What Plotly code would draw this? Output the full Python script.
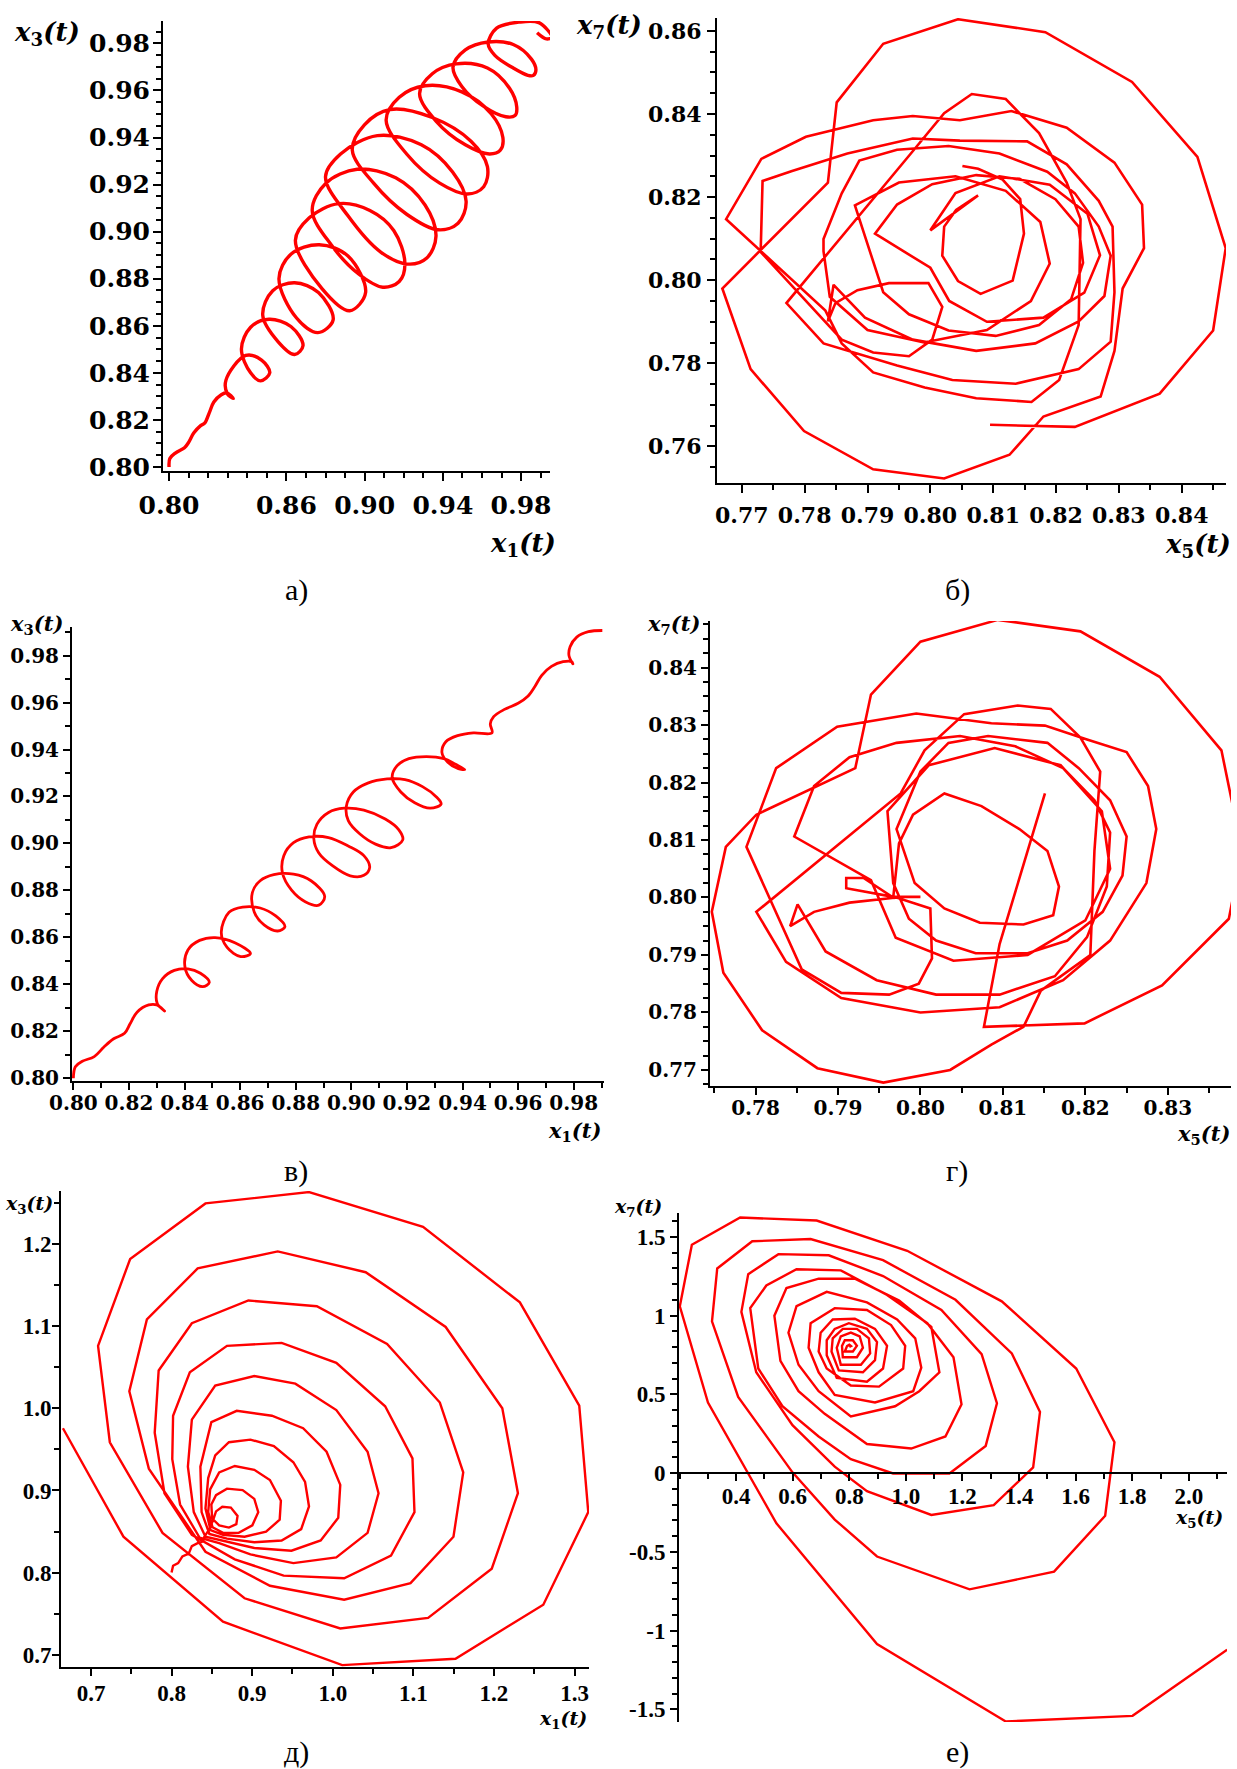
import plotly.graph_objects as go

W, H = 1237, 1769
RED = "#ff0000"

# ---------------- panel a : x1(t) vs x3(t) ----------------
a_pts = [
    (0.8000, 0.8000), (0.8004, 0.8036), (0.8032, 0.8059), (0.8079, 0.8082), (0.8098, 0.8102),
    (0.8126, 0.8144), (0.8160, 0.8175), (0.8182, 0.8186), (0.8205, 0.8229), (0.8229, 0.8276),
    (0.8267, 0.8307), (0.8295, 0.8315), (0.8329, 0.8291), (0.8299, 0.8310), (0.8291, 0.8369),
    (0.8392, 0.8474), (0.8473, 0.8454), (0.8515, 0.8400), (0.8468, 0.8366), (0.8417, 0.8400), (0.8370, 0.8501),
    (0.8417, 0.8594), (0.8511, 0.8628), (0.8623, 0.8597), (0.8685, 0.8516), (0.8642, 0.8478), (0.8558, 0.8532), (0.8479, 0.8645),
    (0.8530, 0.8749), (0.8642, 0.8783), (0.8764, 0.8741), (0.8839, 0.8625), (0.8761, 0.8571), (0.8652, 0.8633), (0.8562, 0.8800),
    (0.8623, 0.8904), (0.8768, 0.8944), (0.8915, 0.8896), (0.9005, 0.8741), (0.8924, 0.8664), (0.8783, 0.8757), (0.8646, 0.8963),
    (0.8717, 0.9059), (0.8868, 0.9119), (0.9027, 0.9090), (0.9149, 0.9005), (0.9206, 0.8865), (0.9177, 0.8788),
    (0.9093, 0.8764), (0.8971, 0.8819), (0.8830, 0.8943), (0.8732, 0.9090),
    (0.8802, 0.9206), (0.8962, 0.9265), (0.9159, 0.9229), (0.9309, 0.9113), (0.9365, 0.8981), (0.9318, 0.8888),
    (0.9224, 0.8862), (0.9084, 0.8912), (0.8915, 0.9067), (0.8800, 0.9233),
    (0.8877, 0.9330), (0.9065, 0.9408), (0.9290, 0.9369), (0.9450, 0.9253), (0.9519, 0.9129), (0.9478, 0.9036),
    (0.9375, 0.9008), (0.9215, 0.9074), (0.9046, 0.9206), (0.8937, 0.9346),
    (0.8999, 0.9454), (0.9131, 0.9519), (0.9346, 0.9485), (0.9544, 0.9384), (0.9628, 0.9276), (0.9609, 0.9191),
    (0.9525, 0.9160), (0.9384, 0.9206), (0.9215, 0.9330), (0.9110, 0.9473),
    (0.9177, 0.9571), (0.9309, 0.9620), (0.9497, 0.9594), (0.9647, 0.9501), (0.9707, 0.9400), (0.9694, 0.9346),
    (0.9638, 0.9330), (0.9515, 0.9369), (0.9365, 0.9470), (0.9281, 0.9586),
    (0.9346, 0.9671), (0.9469, 0.9713), (0.9628, 0.9695), (0.9741, 0.9609), (0.9778, 0.9529), (0.9769, 0.9493),
    (0.9722, 0.9488), (0.9609, 0.9532), (0.9497, 0.9617), (0.9452, 0.9699),
    (0.9515, 0.9772), (0.9632, 0.9806), (0.9760, 0.9795), (0.9853, 0.9733), (0.9876, 0.9687), (0.9863, 0.9664),
    (0.9835, 0.9664), (0.9760, 0.9695), (0.9666, 0.9749), (0.9632, 0.9797),
    (0.9675, 0.9865), (0.9788, 0.9890), (0.9891, 0.9888), (0.9957, 0.9826), (0.9929, 0.9819), (0.9882, 0.9845),
]

# ---------------- panel б : x5(t) vs x7(t) ----------------
b_pts = [
    (0.8051, 0.8275), (0.8076, 0.8268), (0.8115, 0.8242), (0.8143, 0.8195), (0.8149, 0.8112), (0.8131, 0.7999),
    (0.8080, 0.7967), (0.8044, 0.7998), (0.8019, 0.8059), (0.8022, 0.8129), (0.8041, 0.8169), (0.8076, 0.8204),
    (0.8000, 0.8120), (0.8040, 0.8210), (0.8110, 0.8250), (0.8190, 0.8230), (0.8250, 0.8160), (0.8270, 0.8060),
    (0.8245, 0.7970), (0.8180, 0.7910), (0.8090, 0.7900), (0.8030, 0.7950), (0.8000, 0.8030),
    (0.7912, 0.8112), (0.7947, 0.8182), (0.8003, 0.8231), (0.8073, 0.8253), (0.8142, 0.8244), (0.8199, 0.8195),
    (0.8236, 0.8129), (0.8243, 0.8042), (0.8224, 0.7954), (0.8173, 0.7892), (0.8104, 0.7866), (0.8029, 0.7879),
    (0.7966, 0.7918), (0.7925, 0.7971),
    (0.7880, 0.8180), (0.7950, 0.8235), (0.8040, 0.8250), (0.8120, 0.8215), (0.8175, 0.8140), (0.8190, 0.8040),
    (0.8160, 0.7950), (0.8090, 0.7880), (0.7990, 0.7850), (0.7900, 0.7880), (0.7840, 0.7960), (0.7830, 0.8070),
    (0.7830, 0.8099), (0.7859, 0.8209), (0.7887, 0.8288), (0.7947, 0.8314), (0.8029, 0.8323), (0.8110, 0.8305),
    (0.8186, 0.8261), (0.8230, 0.8209), (0.8268, 0.8129), (0.8287, 0.8059), (0.8277, 0.7962), (0.8236, 0.7901),
    (0.8167, 0.7848), (0.8073, 0.7830), (0.7972, 0.7857), (0.7896, 0.7910), (0.7846, 0.7989),
    (0.7837, 0.7901), (0.7849, 0.7945), (0.7884, 0.7976), (0.7934, 0.7993), (0.7997, 0.7993), (0.8019, 0.7936),
    (0.8003, 0.7857), (0.7966, 0.7817), (0.7909, 0.7826), (0.7859, 0.7857),
    (0.7730, 0.8068), (0.7733, 0.8239), (0.7780, 0.8263), (0.7868, 0.8305), (0.7972, 0.8341), (0.8047, 0.8336),
    (0.8154, 0.8334), (0.8217, 0.8279), (0.8268, 0.8191), (0.8290, 0.8129), (0.8293, 0.7971), (0.8287, 0.7852),
    (0.8236, 0.7786), (0.8136, 0.7751), (0.8035, 0.7760), (0.7947, 0.7795), (0.7830, 0.7848), (0.7771, 0.7945),
    (0.7969, 0.8305), (0.8022, 0.8402), (0.8066, 0.8448), (0.8120, 0.8436), (0.8173, 0.8354), (0.8217, 0.8235),
    (0.8239, 0.8147), (0.8236, 0.7892), (0.8205, 0.7760), (0.8161, 0.7707), (0.8073, 0.7716), (0.7991, 0.7742),
    (0.7909, 0.7778), (0.7859, 0.7848), (0.7833, 0.7927),
    (0.7675, 0.8147), (0.7731, 0.8292), (0.7802, 0.8345), (0.7909, 0.8385), (0.7972, 0.8395), (0.8047, 0.8385),
    (0.8129, 0.8407), (0.8217, 0.8367), (0.8293, 0.8283), (0.8337, 0.8182), (0.8340, 0.8077), (0.8306, 0.7980),
    (0.8293, 0.7830), (0.8271, 0.7720), (0.8180, 0.7672), (0.8126, 0.7580), (0.8022, 0.7523), (0.7909, 0.7545),
    (0.7799, 0.7637), (0.7714, 0.7786), (0.7669, 0.7980),
    (0.7837, 0.8235), (0.7851, 0.8428), (0.7925, 0.8569), (0.8044, 0.8628), (0.8183, 0.8597), (0.8321, 0.8477),
    (0.8425, 0.8297), (0.8470, 0.8077), (0.8450, 0.7879), (0.8365, 0.7727), (0.8230, 0.7647), (0.8095, 0.7652),
]

# ---------------- panel в : x1(t) vs x3(t) ----------------
v_pts = [
    (0.8000, 0.8000), (0.8007, 0.8049), (0.8032, 0.8072), (0.8075, 0.8092), (0.8110, 0.8133), (0.8145, 0.8168),
    (0.8184, 0.8191), (0.8204, 0.8232), (0.8229, 0.8281), (0.8271, 0.8312), (0.8300, 0.8312), (0.8328, 0.8286),
    (0.8302, 0.8317), (0.8300, 0.8370), (0.8321, 0.8424), (0.8363, 0.8459), (0.8412, 0.8466), (0.8457, 0.8447),
    (0.8489, 0.8408), (0.8465, 0.8390), (0.8426, 0.8416), (0.8401, 0.8477), (0.8412, 0.8546), (0.8454, 0.8587),
    (0.8510, 0.8599), (0.8581, 0.8577), (0.8637, 0.8531), (0.8602, 0.8518), (0.8553, 0.8557), (0.8532, 0.8622),
    (0.8560, 0.8707), (0.8609, 0.8729), (0.8672, 0.8725), (0.8728, 0.8691), (0.8761, 0.8645), (0.8735, 0.8627),
    (0.8686, 0.8653), (0.8651, 0.8707), (0.8644, 0.8791), (0.8672, 0.8841), (0.8721, 0.8867), (0.8792, 0.8869),
    (0.8855, 0.8841), (0.8904, 0.8775), (0.8883, 0.8737), (0.8834, 0.8752), (0.8785, 0.8801), (0.8752, 0.8875),
    (0.8757, 0.8948), (0.8792, 0.9003), (0.8848, 0.9028), (0.8918, 0.9025), (0.8989, 0.8989), (0.9045, 0.8948),
    (0.9066, 0.8898), (0.9045, 0.8864), (0.8996, 0.8862), (0.8932, 0.8905), (0.8883, 0.8959), (0.8865, 0.9020),
    (0.8876, 0.9081), (0.8918, 0.9132), (0.8975, 0.9150), (0.9045, 0.9142), (0.9122, 0.9104), (0.9171, 0.9058),
    (0.9185, 0.9015), (0.9143, 0.8982), (0.9087, 0.8997), (0.9031, 0.9040), (0.8989, 0.9097), (0.8982, 0.9158),
    (0.9007, 0.9219), (0.9059, 0.9257), (0.9129, 0.9275), (0.9193, 0.9272), (0.9256, 0.9242), (0.9305, 0.9199),
    (0.9323, 0.9168), (0.9284, 0.9150), (0.9228, 0.9173), (0.9178, 0.9219), (0.9147, 0.9280), (0.9164, 0.9330),
    (0.9207, 0.9361), (0.9270, 0.9370), (0.9333, 0.9361), (0.9375, 0.9337), (0.9408, 0.9315), (0.9385, 0.9318),
    (0.9347, 0.9346), (0.9326, 0.9387), (0.9340, 0.9433), (0.9382, 0.9459), (0.9439, 0.9471), (0.9506, 0.9471),
    (0.9500, 0.9509), (0.9512, 0.9540), (0.9551, 0.9571), (0.9600, 0.9597), (0.9635, 0.9627), (0.9661, 0.9670),
    (0.9685, 0.9716), (0.9720, 0.9754), (0.9762, 0.9774), (0.9793, 0.9774), (0.9797, 0.9765), (0.9783, 0.9800),
    (0.9787, 0.9838), (0.9811, 0.9879), (0.9853, 0.9902), (0.9903, 0.9907),
]

# ---------------- panel г : x5(t) vs x7(t) ----------------
g_pts = [
    (0.8000, 0.8001), (0.7967, 0.8001), (0.7910, 0.8016), (0.7910, 0.8034), (0.7931, 0.8034), (0.7967, 0.8000),
    (0.7974, 0.8094), (0.7991, 0.8144), (0.8029, 0.8181), (0.8074, 0.8159), (0.8120, 0.8119), (0.8154, 0.8081),
    (0.8168, 0.8019), (0.8161, 0.7969), (0.8125, 0.7953), (0.8072, 0.7956), (0.8029, 0.7981), (0.7993, 0.8025),
    (0.7971, 0.8119), (0.8000, 0.8219), (0.8034, 0.8269), (0.8082, 0.8281), (0.8154, 0.8269), (0.8192, 0.8225),
    (0.8230, 0.8169), (0.8250, 0.8106), (0.8245, 0.8038), (0.8221, 0.7975), (0.8178, 0.7925), (0.8130, 0.7903),
    (0.8067, 0.7903), (0.8019, 0.7925), (0.7986, 0.7963), (0.7967, 0.8025),
    (0.7960, 0.8150), (0.8010, 0.8230), (0.8090, 0.8260), (0.8170, 0.8230), (0.8220, 0.8150), (0.8230, 0.8050),
    (0.8200, 0.7960), (0.8130, 0.7900), (0.8040, 0.7890), (0.7970, 0.7930), (0.7940, 0.8030),
    (0.7847, 0.8106), (0.7871, 0.8194), (0.7914, 0.8244), (0.7971, 0.8269), (0.8048, 0.8281), (0.8115, 0.8263),
    (0.8173, 0.8225), (0.8211, 0.8169), (0.8230, 0.8113), (0.8226, 0.8019), (0.8202, 0.7931), (0.8163, 0.7863),
    (0.8096, 0.7831), (0.8019, 0.7831), (0.7947, 0.7856), (0.7885, 0.7906), (0.7851, 0.7988),
    (0.7842, 0.7950), (0.7871, 0.7975), (0.7914, 0.7991), (0.7971, 0.8000), (0.8012, 0.7981), (0.8014, 0.7894),
    (0.7998, 0.7850), (0.7962, 0.7831), (0.7904, 0.7834), (0.7856, 0.7875),
    (0.7789, 0.8088), (0.7825, 0.8225), (0.7899, 0.8297), (0.7995, 0.8320), (0.8086, 0.8303), (0.8151, 0.8299),
    (0.8202, 0.8275), (0.8250, 0.8253), (0.8276, 0.8194), (0.8286, 0.8119), (0.8274, 0.8025), (0.8230, 0.7925),
    (0.8173, 0.7856), (0.8096, 0.7809), (0.8000, 0.7800), (0.7904, 0.7825), (0.7837, 0.7888), (0.7801, 0.7975),
    (0.7976, 0.8181), (0.8005, 0.8256), (0.8053, 0.8319), (0.8118, 0.8334), (0.8158, 0.8328), (0.8194, 0.8278),
    (0.8218, 0.8219), (0.8211, 0.8081), (0.8206, 0.7900), (0.8146, 0.7838), (0.8125, 0.7775),
    (0.8086, 0.7744), (0.8036, 0.7700), (0.7955, 0.7678), (0.7875, 0.7703), (0.7808, 0.7769), (0.7761, 0.7869),
    (0.7747, 0.7975), (0.7764, 0.8088), (0.7801, 0.8144), (0.7921, 0.8225),
    (0.7940, 0.8353), (0.8000, 0.8445), (0.8094, 0.8483), (0.8194, 0.8463), (0.8290, 0.8384), (0.8365, 0.8256),
    (0.8390, 0.8081), (0.8374, 0.7963), (0.8293, 0.7847), (0.8199, 0.7781), (0.8077, 0.7775),
    (0.8096, 0.7919), (0.8151, 0.8181),
]

# ---------------- panel д : x1(t) vs x3(t) ----------------
d_pts = [
    (0.7999, 0.8002), (0.8018, 0.8085), (0.8081, 0.8117), (0.8134, 0.8199), (0.8212, 0.8232), (0.8251, 0.8324),
    (0.8323, 0.8360), (0.8386, 0.8379), (0.8406, 0.8438), (0.8469, 0.8530),
    (0.8517, 0.8645), (0.8551, 0.8746), (0.8629, 0.8801), (0.8735, 0.8792), (0.8818, 0.8691), (0.8803, 0.8590),
    (0.8711, 0.8549), (0.8590, 0.8576), (0.8503, 0.8659),
    (0.8493, 0.8829), (0.8551, 0.8944), (0.8687, 0.9022), (0.8881, 0.9004), (0.9026, 0.8898), (0.9075, 0.8737),
    (0.9002, 0.8576), (0.8832, 0.8484), (0.8638, 0.8484), (0.8508, 0.8553),
    (0.8454, 0.8737), (0.8478, 0.9013), (0.8590, 0.9220), (0.8784, 0.9298), (0.9026, 0.9252), (0.9220, 0.9128),
    (0.9356, 0.8875), (0.9341, 0.8645), (0.9172, 0.8498), (0.8905, 0.8438), (0.8638, 0.8461), (0.8483, 0.8517),
    (0.8420, 0.8783), (0.8454, 0.9151), (0.8541, 0.9427), (0.8711, 0.9587), (0.8978, 0.9619), (0.9269, 0.9541),
    (0.9511, 0.9344), (0.9656, 0.9105), (0.9705, 0.8806), (0.9608, 0.8530), (0.9365, 0.8392), (0.9026, 0.8370),
    (0.8687, 0.8415), (0.8469, 0.8471),
    (0.8372, 0.8737), (0.8357, 0.9289), (0.8493, 0.9831), (0.8808, 0.9969), (0.9244, 0.9909), (0.9632, 0.9757),
    (0.9923, 0.9472), (1.0093, 0.9068), (1.0068, 0.8668), (0.9850, 0.8392), (0.9487, 0.8268), (0.9026, 0.8301),
    (0.8663, 0.8379), (0.8420, 0.8438),
    (0.8275, 0.8737), (0.8202, 0.9289), (0.8251, 0.9863), (0.8541, 1.0277), (0.9026, 1.0392), (0.9535, 1.0300),
    (1.0044, 0.9978), (1.0432, 0.9472), (1.0568, 0.8967), (1.0432, 0.8484), (1.0044, 0.8186), (0.9511, 0.8117),
    (0.8978, 0.8222), (0.8590, 0.8360), (0.8348, 0.8425),
    (0.8105, 0.8829), (0.8008, 0.9381), (0.8018, 0.9909), (0.8226, 1.0438), (0.8687, 1.0759), (0.9365, 1.0796),
    (1.0044, 1.0552), (1.0650, 1.0024), (1.0989, 0.9390), (1.1014, 0.8737), (1.0723, 0.8209), (1.0141, 0.7933),
    (0.9390, 0.7965), (0.8784, 0.8163), (0.8251, 0.8461),
    (0.7911, 0.8967), (0.7790, 0.9702), (0.7839, 1.0460), (0.8251, 1.1035), (0.8953, 1.1311), (0.9802, 1.1242),
    (1.0674, 1.0782), (1.1329, 1.0070), (1.1619, 0.9220), (1.1498, 0.8438), (1.0965, 0.7873), (1.0141, 0.7671),
    (0.9220, 0.7841), (0.8420, 0.8255),
    (0.7717, 0.9266), (0.7475, 1.0208), (0.7693, 1.1081), (0.8323, 1.1701), (0.9317, 1.1908), (1.0408, 1.1655),
    (1.1401, 1.0989), (1.2104, 1.0001), (1.2298, 0.8967), (1.1973, 0.8048), (1.1183, 0.7450), (1.0093, 0.7322),
    (0.8905, 0.7689), (0.7887, 0.8484),
    (0.7233, 0.9587), (0.7087, 1.0759), (0.7485, 1.1816), (0.8420, 1.2492), (0.9705, 1.2630), (1.1120, 1.2207),
    (1.2322, 1.1288), (1.3059, 1.0033), (1.3171, 0.8737), (1.2613, 0.7611), (1.1523, 0.6954), (1.0117, 0.6876),
    (0.8638, 0.7404), (0.7402, 0.8438), (0.6651, 0.9757),
]

# ---------------- panel е : x5(t) vs x7(t) ----------------
e_pts = [
    (0.800, 0.800), (0.806, 0.806), (0.800, 0.815), (0.792, 0.806),
    (0.7841, 0.7716), (0.8125, 0.7716), (0.8268, 0.8076), (0.8125, 0.8435), (0.7841, 0.8435), (0.7741, 0.8076),
    (0.7770, 0.7357), (0.8268, 0.7357), (0.8481, 0.7956), (0.8367, 0.8675), (0.8054, 0.8914), (0.7699, 0.8675),
    (0.7556, 0.7956),
    (0.7699, 0.6877), (0.8410, 0.6877), (0.8737, 0.7596), (0.8694, 0.8555), (0.8268, 0.9154), (0.7770, 0.9154),
    (0.7414, 0.8555), (0.7371, 0.7716),
    (0.7627, 0.6518), (0.8481, 0.6398), (0.8908, 0.7165), (0.8979, 0.8315), (0.8623, 0.9154), (0.7983, 0.9514),
    (0.7485, 0.9154), (0.7201, 0.8435), (0.7201, 0.7477),
    (0.7556, 0.6039), (0.8623, 0.5799), (0.9192, 0.6638), (0.9334, 0.8076), (0.8908, 0.9154), (0.8196, 0.9801),
    (0.7414, 0.9753), (0.6987, 0.8914), (0.6916, 0.7716), (0.7201, 0.6638),
    (0.8054, 0.5560), (0.9050, 0.5488), (0.9904, 0.6638), (0.9975, 0.8076), (0.9476, 0.9394), (0.8623, 1.0353),
    (0.7485, 1.0472), (0.6632, 0.9514), (0.6561, 0.7956), (0.6916, 0.6398),
    (0.7485, 0.4961), (0.8908, 0.4481), (1.0259, 0.5200), (1.0544, 0.6686), (1.0330, 0.8555), (0.9690, 0.9753),
    (0.8623, 1.0832), (0.7201, 1.1503), (0.6134, 1.0592), (0.5849, 0.8914), (0.6205, 0.6878), (0.6916, 0.5200),
    (0.8054, 0.3595), (0.9618, 0.4242), (1.0472, 0.5200), (1.1184, 0.6398), (1.0899, 0.9274), (0.9761, 1.0952),
    (0.8196, 1.2341), (0.6916, 1.2341), (0.5778, 1.1742), (0.5351, 0.9993), (0.5565, 0.7117), (0.6205, 0.5200),
    (0.7130, 0.3762),
    (0.8623, 0.1845), (1.0188, 0.1558), (1.1397, 0.2325), (1.1966, 0.4361), (1.1682, 0.7357), (1.0757, 0.9514),
    (0.9334, 1.1311), (0.7699, 1.2869), (0.6134, 1.2941), (0.5067, 1.1910), (0.4498, 1.0472), (0.4782, 0.6638),
    (0.5636, 0.4242), (0.6916, 0.2325), (0.8054, 0.0887),
    (0.9548, -0.0024), (1.1539, -0.0024), (1.2820, 0.1725), (1.3218, 0.4433), (1.2677, 0.7549), (1.1255, 1.0353),
    (0.9192, 1.2509), (0.7272, 1.3827), (0.5494, 1.3899), (0.4427, 1.2629), (0.4185, 1.0232), (0.4711, 0.6398),
    (0.5991, 0.3043), (0.7485, 0.0407), (0.8623, -0.1150),
    (1.0899, -0.2660), (1.3104, -0.2037), (1.4498, 0.0359), (1.4740, 0.3882), (1.3744, 0.7597), (1.1753, 1.0999),
    (0.9192, 1.3516), (0.6632, 1.4858), (0.4569, 1.4714), (0.3331, 1.2988), (0.3146, 0.9634), (0.4071, 0.4841),
    (0.5991, 0.0048), (0.7485, -0.2948), (0.8979, -0.5296),
    (1.2251, -0.7381), (1.5238, -0.6254), (1.7044, -0.2708), (1.7372, 0.1965), (1.6020, 0.6638), (1.3389, 1.0903),
    (1.0046, 1.4114), (0.6845, 1.6031), (0.4142, 1.6223), (0.2435, 1.4498), (0.2009, 1.0592), (0.3004, 0.4481),
    (0.5423, -0.3187), (0.8979, -1.0855), (1.3531, -1.5768), (1.8011, -1.5409), (2.1355, -1.1215),
]

# tick labels
a_xticks = [0.80, 0.86, 0.90, 0.94, 0.98]
a_xlabels = ["0.80", "0.86", "0.90", "0.94", "0.98"]
a_yticks = [0.80, 0.82, 0.84, 0.86, 0.88, 0.90, 0.92, 0.94, 0.96, 0.98]
b_xticks = [0.77, 0.78, 0.79, 0.80, 0.81, 0.82, 0.83, 0.84]
b_yticks = [0.76, 0.78, 0.80, 0.82, 0.84, 0.86]
v_xticks = [0.80, 0.82, 0.84, 0.86, 0.88, 0.90, 0.92, 0.94, 0.96, 0.98]
v_yticks = [0.80, 0.82, 0.84, 0.86, 0.88, 0.90, 0.92, 0.94, 0.96, 0.98]
g_xticks = [0.78, 0.79, 0.80, 0.81, 0.82, 0.83]
g_yticks = [0.77, 0.78, 0.79, 0.80, 0.81, 0.82, 0.83, 0.84]
d_xticks = [0.7, 0.8, 0.9, 1.0, 1.1, 1.2, 1.3]
d_xlabels = ["0.7", "0.8", "0.9", "1.0", "1.1", "1.2", "1.3"]
d_yticks = [0.7, 0.8, 0.9, 1.0, 1.1, 1.2]
d_ylabels = ["0.7", "0.8", "0.9", "1.0", "1.1", "1.2"]
e_xticks = [0.4, 0.6, 0.8, 1.0, 1.2, 1.4, 1.6, 1.8, 2.0]
e_xlabels = ["0.4", "0.6", "0.8", "1.0", "1.2", "1.4", "1.6", "1.8", "2.0"]
e_yticks = [-1.5, -1.0, -0.5, 0.0, 0.5, 1.0, 1.5]
e_ylabels = ["-1.5", "-1", "-0.5", "0", "0.5", "1", "1.5"]

captions = ["а)", "б)", "в)", "г)", "д)", "е)"]


def fmt2(v):
    return "%.2f" % v


fig = go.Figure()

panels = [
    (a_pts, "x", "y", 3.4, "spline"),
    (b_pts, "x2", "y2", 2.6, "linear"),
    (v_pts, "x3", "y3", 2.8, "spline"),
    (g_pts, "x4", "y4", 2.6, "linear"),
    (d_pts, "x5", "y5", 2.4, "linear"),
    (e_pts, "x6", "y6", 2.4, "linear"),
]
for pts, xa, ya, lw, shape in panels:
    xs = [p[0] for p in pts]
    ys = [p[1] for p in pts]
    line = dict(color=RED, width=lw, shape=shape)
    if shape == "spline":
        line["smoothing"] = 1.0
    fig.add_trace(go.Scatter(x=xs, y=ys, mode="lines", line=line, xaxis=xa, yaxis=ya,
                             showlegend=False, hoverinfo="skip"))


def dx(l, r):
    return [l / W, r / W]


def dy(top, bot):
    return [1 - bot / H, 1 - top / H]


def axis(domain, rng, tickvals, ticktext, font, minor_dtick, minor_tick0, anchor, standoff, ticklen=8):
    return dict(
        domain=domain, range=rng, anchor=anchor, automargin=False,
        showgrid=False, zeroline=False, showline=True, linecolor="black", linewidth=2,
        ticks="outside", ticklen=ticklen, tickwidth=2, tickcolor="black",
        tickmode="array", tickvals=tickvals, ticktext=ticktext,
        tickfont=font, ticklabelstandoff=standoff,
        minor=dict(ticks="outside", ticklen=5, tickwidth=1.5, tickcolor="black",
                   dtick=minor_dtick, tick0=minor_tick0, showgrid=False),
        fixedrange=True,
    )


fa = dict(family="DejaVu Serif", size=25, color="black", weight="bold")
fb = dict(family="DejaVu Serif", size=22, color="black", weight="bold")
fv = dict(family="DejaVu Serif", size=20, color="black", weight="bold")
fd = dict(family="Liberation Serif", size=23, color="black", weight="bold")

layout = dict(
    width=W, height=H, margin=dict(l=0, r=0, t=0, b=0, pad=0, autoexpand=False),
    paper_bgcolor="white", plot_bgcolor="white", showlegend=False,
    xaxis=axis(dx(163, 550), [0.7969, 0.9948], a_xticks, a_xlabels, fa, 0.01, 0.8, "y", 3),
    yaxis=axis(dy(21, 471), [0.7983, 0.9895], a_yticks, [fmt2(v) for v in a_yticks], fa, 0.005, 0.8, "x", -2),
    xaxis2=axis(dx(717, 1226), [0.76605, 0.84705], b_xticks, [fmt2(v) for v in b_xticks], fb, 0.005, 0.77, "y2", 4),
    yaxis2=axis(dy(18, 483), [0.7512, 0.8631], b_yticks, [fmt2(v) for v in b_yticks], fb, 0.005, 0.76, "x2", 1),
    xaxis3=axis(dx(72, 604), [0.7995, 0.9909], v_xticks, [fmt2(v) for v in v_xticks], fv, 0.01, 0.8, "y3", -4, 7),
    yaxis3=axis(dy(627, 1081), [0.7988, 0.9922], v_yticks, [fmt2(v) for v in v_yticks], fv, 0.01, 0.8, "x3", 0, 7),
    xaxis4=axis(dx(710, 1231), [0.77448, 0.83766], g_xticks, [fmt2(v) for v in g_xticks], fv, 0.005, 0.78, "y4", -4, 7),
    yaxis4=axis(dy(621, 1086), [0.7672, 0.8481], g_yticks, [fmt2(v) for v in g_yticks], fv, 0.0025, 0.77, "x4", 0, 7),
    xaxis5=axis(dx(61, 589), [0.6627, 1.318], d_xticks, d_xlabels, fd, 0.05, 0.7, "y5", -3, 7),
    yaxis5=axis(dy(1191, 1667), [0.6853, 1.2643], d_yticks, d_ylabels, fd, 0.05, 0.7, "x5", -4, 7),
    xaxis6=axis(dx(679, 1227), [0.198, 2.135], e_xticks, e_xlabels, fd, 0.1, 0.2, "free", -5, 7),
    yaxis6=axis(dy(1213, 1722), [-1.58, 1.651], e_yticks, e_ylabels, fd, 0.1, 0.0, "x6", 0, 7),
)
layout["xaxis6"]["position"] = 0.1673

tf_big = dict(family="DejaVu Serif", size=26, color="black", weight="bold")
tf_mid = dict(family="DejaVu Serif", size=21, color="black", weight="bold")
tf_small = dict(family="DejaVu Serif", size=19, color="black", weight="bold")


def lab(sub):
    return "<i>x</i><sub>%s</sub><i>(t)</i>" % sub


ann = []
title_specs = [
    (12, 33, "3", tf_big), (488, 544, "1", tf_big),
    (574, 27, "7", tf_big), (1163, 546, "5", tf_big),
    (8, 625, "3", tf_mid), (546, 1131, "1", tf_mid),
    (645, 625, "7", tf_mid), (1175, 1134, "5", tf_mid),
    (3, 1204, "3", tf_small), (537, 1719, "1", tf_small),
    (612, 1207, "7", tf_small), (1173, 1518, "5", tf_small),
]
for px, py, sub, f in title_specs:
    ann.append(dict(x=px / W, y=1 - py / H, xref="paper", yref="paper", text=lab(sub),
                    showarrow=False, xanchor="left", yanchor="middle", font=f))

cap_pos = [(296, 590), (957, 590), (296, 1171), (957, 1171), (296, 1752), (957, 1752)]
for (px, py), t in zip(cap_pos, captions):
    ann.append(dict(x=px / W, y=1 - py / H, xref="paper", yref="paper", text=t,
                    showarrow=False, xanchor="center", yanchor="middle",
                    font=dict(family="Liberation Serif", size=30, color="black")))

layout["annotations"] = ann
fig.update_layout(**layout)
fig.write_html("out.html")
